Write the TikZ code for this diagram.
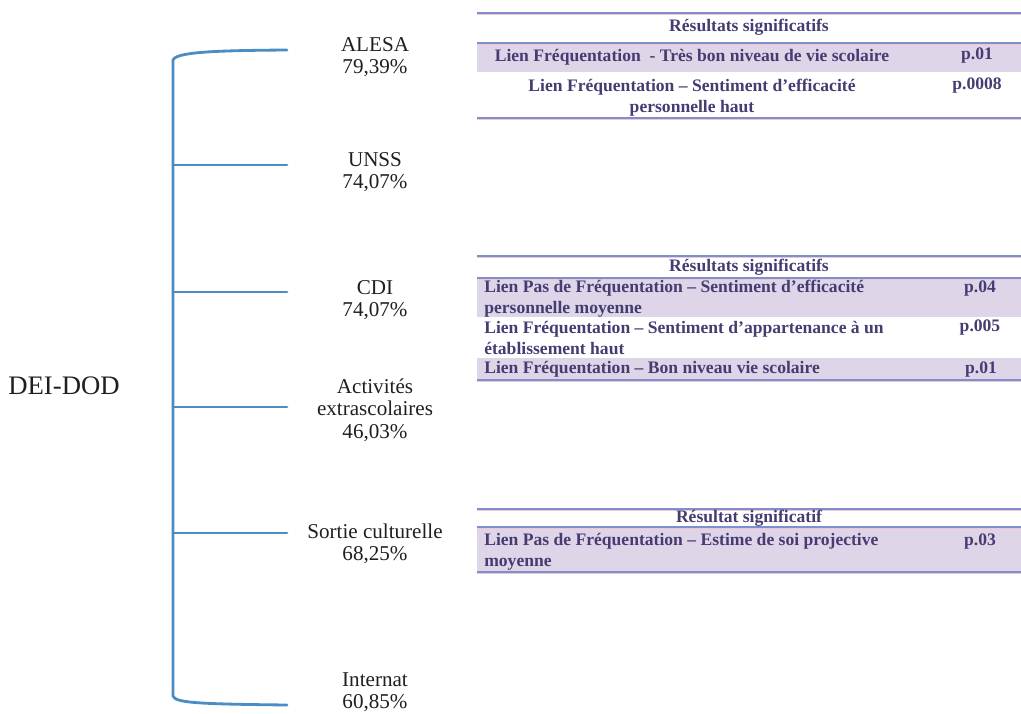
\documentclass[tikz,border=0pt]{standalone}
\usepackage{fontspec}
\setmainfont{Liberation Serif}
\usetikzlibrary{positioning}
\definecolor{BraceBlue}{RGB}{74,140,196}
\definecolor{RowLilac}{RGB}{222,213,232}
\definecolor{InkPurple}{RGB}{70,60,114}
\definecolor{RuleBlue}{RGB}{126,144,204}
\definecolor{RulePink}{RGB}{238,198,214}

\begin{document}
\begin{tikzpicture}[
    x=0.025cm, y=-0.025cm,
    branch/.style={draw=BraceBlue, line width=2pt, line cap=round},
    actlabel/.style={align=center, font=\fontsize{15}{16}\selectfont, text=black!88},
    tabrule/.style={draw=RuleBlue, line width=0.8pt,
        preaction={draw=RulePink, line width=0.8pt, transform canvas={yshift=-0.9pt}}},
    cell/.style={font=\fontsize{12.5}{15}\selectfont\bfseries, text=InkPurple, inner sep=0pt},
    lcell/.style={cell, anchor=west, align=left},
    pval/.style={cell}
]
    \useasboundingbox (0,0) rectangle (1021,713);

    % root and activities
    \node[font=\fontsize{19}{22}\selectfont, text=black!88] (root) at (64,386) {DEI-DOD};
    \node[actlabel] (alesa) at (375,57) {ALESA\\79,39\%};
    \node[actlabel] (unss) at (375,172) {UNSS\\74,07\%};
    \node[actlabel] (cdi) at (375,300) {CDI\\74,07\%};
    \node[actlabel] (activ) at (375,410) {Activités\\extrascolaires\\46,03\%};
    \node[actlabel] (sortie) at (375,544) {Sortie culturelle\\68,25\%};
    \node[actlabel] (internat) at (375,692) {Internat\\60,85\%};

    % bracket
    \coordinate (bALESA) at (287,50);
    \coordinate (bInternat) at (287,705);
    \coordinate (sTop) at (173,60);
    \coordinate (sBot) at (173,696);
    \draw[branch] (bALESA) .. controls (215,50.5) and (176,52) .. (sTop) -- (sBot)
        .. controls (175,703) and (200,704) .. (bInternat);
    \foreach \b/\y in {UNSS/165, CDI/292, Activ/407, Sortie/533} {
        \coordinate (s\b) at (173,\y);
        \coordinate (b\b) at (287,\y);
        \draw[branch] (s\b) -- (b\b);
    }

    % table ALESA
    \fill[RowLilac] (477,43) rectangle (1021,72);
    \draw[tabrule] (477,13) -- (1021,13);
    \draw[tabrule] (477,43) -- (1021,43);
    \draw[tabrule] (477,118) -- (1021,118);
    \node[cell] (h1) at (749,27) {Résultats significatifs};
    \node[cell] (r1a) at (692,57) {Lien Fréquentation \ - Très bon niveau de vie scolaire};
    \node[pval] (p1a) at (977,56) {p.01};
    \node[cell, align=center] (r1b) at (692,98) {Lien Fréquentation – Sentiment d’efficacité\\personnelle haut};
    \node[pval] (p1b) at (977,86) {p.0008};

    % table CDI
    \fill[RowLilac] (477,278) rectangle (1021,317);
    \fill[RowLilac] (477,358) rectangle (1021,379);
    \draw[tabrule] (477,256) -- (1021,256);
    \draw[tabrule] (477,278) -- (1021,278);
    \draw[tabrule] (477,380) -- (1021,380);
    \node[cell] (h2) at (749,267) {Résultats significatifs};
    \node[lcell] (r2a) at (484,299) {Lien Pas de Fréquentation – Sentiment d’efficacité\\personnelle moyenne};
    \node[pval] (p2a) at (980,289) {p.04};
    \node[lcell] (r2b) at (484,338) {Lien Fréquentation – Sentiment d’appartenance à un\\établissement haut};
    \node[pval] (p2b) at (980,328) {p.005};
    \node[lcell] (r2c) at (484,369.5) {Lien Fréquentation – Bon niveau vie scolaire};
    \node[pval] (p2c) at (981,369.5) {p.01};

    % table sortie
    \fill[RowLilac] (477,527) rectangle (1021,572);
    \draw[tabrule] (477,509) -- (1021,509);
    \draw[tabrule] (477,527) -- (1021,527);
    \draw[tabrule] (477,572) -- (1021,572);
    \node[cell] (h3) at (749,518) {Résultat significatif};
    \node[lcell] (r3a) at (484,552) {Lien Pas de Fréquentation – Estime de soi projective\\moyenne};
    \node[pval] (p3a) at (980,542) {p.03};
\end{tikzpicture}
\end{document}
